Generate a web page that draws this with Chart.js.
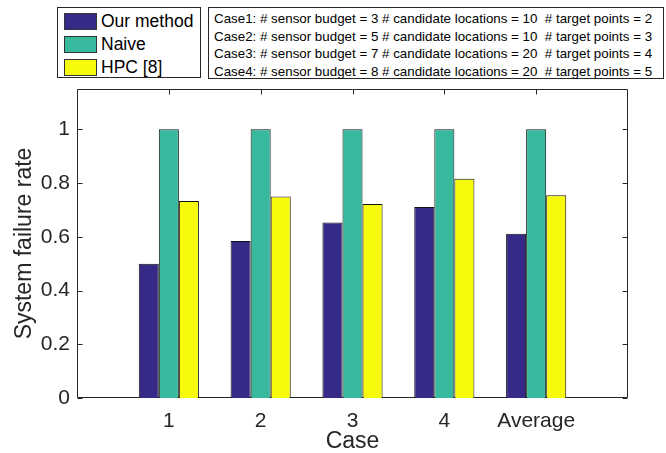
<!DOCTYPE html>
<html>
<head>
<meta charset="utf-8">
<script src="https://cdn.jsdelivr.net/npm/chart.js@4"></script>
<style>
  html, body { margin: 0; padding: 0; background: #fff; }
  #wrap { position: relative; width: 666px; height: 453px; }
  canvas { position: absolute; left: 0; top: 0; }
  .box { position: absolute; border: 1px solid #262626; background: #fff; box-sizing: border-box; font-family: "Liberation Sans", Arial, sans-serif; color: #000; }
  .lrow { position: absolute; left: 6px; height: 17px; }
  .sw { position: absolute; left: 0; top: 0; width: 33px; height: 17px; box-sizing: border-box; border: 1px solid #333; }
  .lt { position: absolute; left: 37px; top: -2px; font-size: 17.5px; white-space: nowrap; line-height: 20px; }
  .cl { position: absolute; left: 5px; font-size: 13.35px; white-space: pre; line-height: 15px; }
</style>
</head>
<body>
<div id="wrap">
  <canvas id="c" width="666" height="453"></canvas>
  <div class="box" id="leg" style="left:57px; top:7px; width:144px; height:71px;"></div>
  <div class="box" id="cases" style="left:208px; top:7px; width:456px; height:72px;"></div>
</div>
<script>
const categories = ["1", "2", "3", "4", "Average"];
const seriesNames = ["Our method", "Naive", "HPC [8]"];
const ourMethod = [0.50, 0.584, 0.653, 0.711, 0.611];
const naive = [1.00, 1.00, 1.00, 1.00, 1.00];
const hpc = [0.733, 0.750, 0.722, 0.816, 0.755];
const yTicks = [0, 0.2, 0.4, 0.6, 0.8, 1];
const caseNotes = [
  "Case1: # sensor budget = 3 # candidate locations = 10  # target points = 2",
  "Case2: # sensor budget = 5 # candidate locations = 10  # target points = 3",
  "Case3: # sensor budget = 7 # candidate locations = 20  # target points = 4",
  "Case4: # sensor budget = 8 # candidate locations = 20  # target points = 5"
];
const colors = ["#352a87", "#38b99d", "#f8fa0d"];

// HTML legend
const leg = document.getElementById('leg');
seriesNames.forEach((n, i) => {
  const r = document.createElement('div');
  r.className = 'lrow';
  r.style.top = (5 + i * 23) + 'px';
  r.innerHTML = '<div class="sw" style="background:' + colors[i] + '"></div><div class="lt">' + n + '</div>';
  leg.appendChild(r);
});
const cb = document.getElementById('cases');
caseNotes.forEach((t, i) => {
  const d = document.createElement('div');
  d.className = 'cl';
  d.style.top = (3 + i * 17.6) + 'px';
  d.textContent = t;
  cb.appendChild(d);
});

const seriesData = [ourMethod, naive, hpc];
const positions = categories.map((_, i) => i + 1);

const axisColor = '#262626';
const boxPlugin = {
  id: 'boxPlugin',
  beforeDatasetsDraw(chart) {
    const ctx = chart.ctx;
    const a = chart.chartArea;
    const ys = chart.scales.y, xs = chart.scales.x;
    ctx.save();
    ctx.strokeStyle = axisColor;
    ctx.lineWidth = 1;
    const L = Math.round(a.left) + 0.5, R = Math.round(a.right) - 0.5;
    const T = Math.round(a.top) + 0.5, B = Math.round(a.bottom) - 0.5;
    ctx.beginPath();
    ctx.rect(L, T, R - L, B - T);
    yTicks.forEach(v => {
      const p = Math.round(ys.getPixelForValue(v)) + 0.5;
      ctx.moveTo(L, p); ctx.lineTo(L + 5, p);
      ctx.moveTo(R, p); ctx.lineTo(R - 5, p);
    });
    positions.forEach(v => {
      const p = Math.round(xs.getPixelForValue(v)) + 0.5;
      ctx.moveTo(p, T); ctx.lineTo(p, T + 5);
      ctx.moveTo(p, B); ctx.lineTo(p, B - 5);
    });
    ctx.stroke();
    ctx.restore();
  }
};

new Chart(document.getElementById('c'), {
  type: 'bar',
  data: {
    datasets: seriesNames.map((n, s) => ({
      label: n,
      data: positions.map((x, i) => ({ x: x, y: seriesData[s][i] })),
      backgroundColor: colors[s],
      borderColor: '#111',
      borderWidth: 1,
      categoryPercentage: 0.655,
      barPercentage: 1
    }))
  },
  options: {
    responsive: false,
    animation: false,
    devicePixelRatio: 1,
    layout: { padding: { top: 89, right: 38, left: 0, bottom: 0 } },
    plugins: { legend: { display: false }, tooltip: { enabled: false } },
    scales: {
      x: {
        type: 'linear',
        offset: false,
        min: 0, max: 6,
        grid: { display: false, drawTicks: false, offset: false },
        border: { display: false },
        afterBuildTicks(scale) { scale.ticks = positions.map(v => ({ value: v })); },
        afterFit(scale) { scale.height = 55; },
        ticks: {
          autoSkip: false,
          maxRotation: 0,
          padding: 11,
          color: '#262626',
          font: { family: 'Liberation Sans', size: 21 },
          callback: (v) => categories[Math.round(v) - 1] ?? ''
        },
        title: {
          display: true, text: 'Case', color: '#262626',
          font: { family: 'Liberation Sans', size: 23 },
          padding: { top: -2, bottom: -2 }
        }
      },
      y: {
        min: 0, max: 1.15,
        grid: { display: false, drawTicks: false },
        border: { display: false },
        afterBuildTicks(scale) { scale.ticks = yTicks.map(v => ({ value: v })); },
        afterFit(scale) { scale.width = 77; },
        ticks: {
          padding: 7,
          color: '#262626',
          font: { family: 'Liberation Sans', size: 21 },
          callback: (v) => String(v)
        },
        title: {
          display: true, text: 'System failure rate', color: '#262626',
          font: { family: 'Liberation Sans', size: 23 },
          padding: { top: 11, bottom: 0 }
        }
      }
    }
  },
  plugins: [boxPlugin]
});
</script>
</body>
</html>
